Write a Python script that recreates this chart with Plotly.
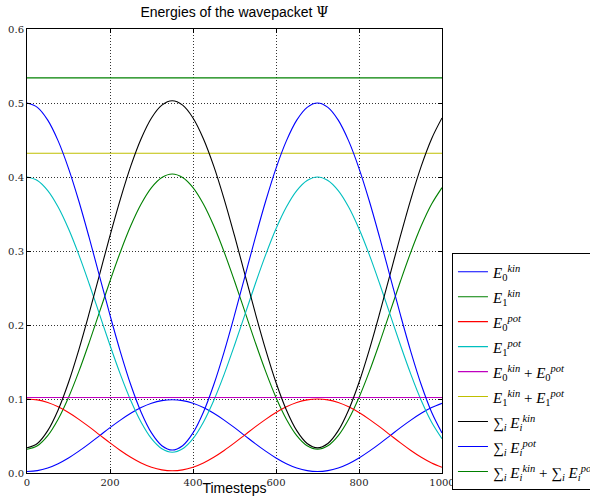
import plotly.graph_objects as go

timesteps = list(range(0, 1001, 25))

E0_kin = [0.0020, 0.0032, 0.0068, 0.0126, 0.0203, 0.0295, 0.0397, 0.0505, 0.0613, 0.0715, 0.0807, 0.0884, 0.0942, 0.0978, 0.0990, 0.0978, 0.0942, 0.0884, 0.0807, 0.0715, 0.0613, 0.0505, 0.0397, 0.0295, 0.0203, 0.0126, 0.0068, 0.0032, 0.0020, 0.0032, 0.0068, 0.0126, 0.0203, 0.0295, 0.0397, 0.0505, 0.0613, 0.0715, 0.0807, 0.0884, 0.0942]
E1_kin = [0.0320, 0.0367, 0.0504, 0.0726, 0.1020, 0.1373, 0.1766, 0.2180, 0.2594, 0.2987, 0.3340, 0.3634, 0.3856, 0.3993, 0.4040, 0.3993, 0.3856, 0.3634, 0.3340, 0.2987, 0.2594, 0.2180, 0.1766, 0.1373, 0.1020, 0.0726, 0.0504, 0.0367, 0.0320, 0.0367, 0.0504, 0.0726, 0.1020, 0.1373, 0.1766, 0.2180, 0.2594, 0.2987, 0.3340, 0.3634, 0.3856]
E0_pot = [0.1000, 0.0988, 0.0952, 0.0894, 0.0817, 0.0725, 0.0623, 0.0515, 0.0407, 0.0305, 0.0213, 0.0136, 0.0078, 0.0042, 0.0030, 0.0042, 0.0078, 0.0136, 0.0213, 0.0305, 0.0407, 0.0515, 0.0623, 0.0725, 0.0817, 0.0894, 0.0952, 0.0988, 0.1000, 0.0988, 0.0952, 0.0894, 0.0817, 0.0725, 0.0623, 0.0515, 0.0407, 0.0305, 0.0213, 0.0136, 0.0078]
E1_pot = [0.4000, 0.3953, 0.3816, 0.3594, 0.3300, 0.2947, 0.2554, 0.2140, 0.1726, 0.1333, 0.0980, 0.0686, 0.0464, 0.0327, 0.0280, 0.0327, 0.0464, 0.0686, 0.0980, 0.1333, 0.1726, 0.2140, 0.2554, 0.2947, 0.3300, 0.3594, 0.3816, 0.3953, 0.4000, 0.3953, 0.3816, 0.3594, 0.3300, 0.2947, 0.2554, 0.2140, 0.1726, 0.1333, 0.0980, 0.0686, 0.0464]

E0_tot = [a + b for a, b in zip(E0_kin, E0_pot)]
E1_tot = [a + b for a, b in zip(E1_kin, E1_pot)]
sum_kin = [a + b for a, b in zip(E0_kin, E1_kin)]
sum_pot = [a + b for a, b in zip(E0_pot, E1_pot)]
sum_all = [a + b for a, b in zip(sum_kin, sum_pot)]

labels = [
    "<i>E</i><sub>0</sub><sup><i>kin</i></sup>",
    "<i>E</i><sub>1</sub><sup><i>kin</i></sup>",
    "<i>E</i><sub>0</sub><sup><i>pot</i></sup>",
    "<i>E</i><sub>1</sub><sup><i>pot</i></sup>",
    "<i>E</i><sub>0</sub><sup><i>kin</i></sup> + <i>E</i><sub>0</sub><sup><i>pot</i></sup>",
    "<i>E</i><sub>1</sub><sup><i>kin</i></sup> + <i>E</i><sub>1</sub><sup><i>pot</i></sup>",
    "∑<sub><i>i</i></sub> <i>E</i><sub><i>i</i></sub><sup><i>kin</i></sup>",
    "∑<sub><i>i</i></sub> <i>E</i><sub><i>i</i></sub><sup><i>pot</i></sup>",
    "∑<sub><i>i</i></sub> <i>E</i><sub><i>i</i></sub><sup><i>kin</i></sup> + ∑<sub><i>i</i></sub> <i>E</i><sub><i>i</i></sub><sup><i>pot</i></sup>",
]
values = [E0_kin, E1_kin, E0_pot, E1_pot, E0_tot, E1_tot, sum_kin, sum_pot, sum_all]
colors = ["#0000ff", "#008000", "#ff0000", "#00bfbf", "#bf00bf", "#bfbf00", "#000000", "#0000ff", "#008000"]

fig = go.Figure()
for name, vals, color in zip(labels, values, colors):
    fig.add_trace(go.Scatter(x=timesteps, y=vals, mode="lines",
                             name="<span style='font-size:15px'>" + name + "</span>",
                             line=dict(color=color, width=1.1, shape="spline")))

axis_common = dict(
    showline=True, linecolor="black", linewidth=1, mirror="allticks",
    ticks="inside", ticklen=4, tickcolor="black",
    showgrid=True, gridcolor="#333333", gridwidth=1, griddash="1px,2px",
    zeroline=False,
    tickfont=dict(family="DejaVu Serif", size=10, color="#222222"),
)

fig.update_xaxes(range=[0, 1000], dtick=200, tick0=0,
                 title=dict(text="Timesteps", font=dict(family="Liberation Sans", size=14, color="black"), standoff=7),
                 **axis_common)
fig.update_yaxes(range=[0, 0.6], dtick=0.1, tick0=0, tickformat=".1f", **axis_common)

fig.update_layout(
    width=590, height=496,
    margin=dict(l=27, r=148, t=29, b=23, autoexpand=False),
    paper_bgcolor="white", plot_bgcolor="white",
    title=dict(text="Energies of the wavepacket <span style='font-family:DejaVu Serif'>Ψ</span>",
               x=0.5, xref="paper", xanchor="center", y=1 - 12 / 496, yanchor="middle",
               font=dict(family="Liberation Sans", size=14, color="black")),
    showlegend=True,
    legend=dict(x=1.024, xanchor="left", y=0.495, yanchor="top",
                bordercolor="black", borderwidth=1, bgcolor="white",
                font=dict(family="Liberation Serif", size=16.9, color="black"),
                tracegroupgap=0),
)

fig.write_html("out.html")
